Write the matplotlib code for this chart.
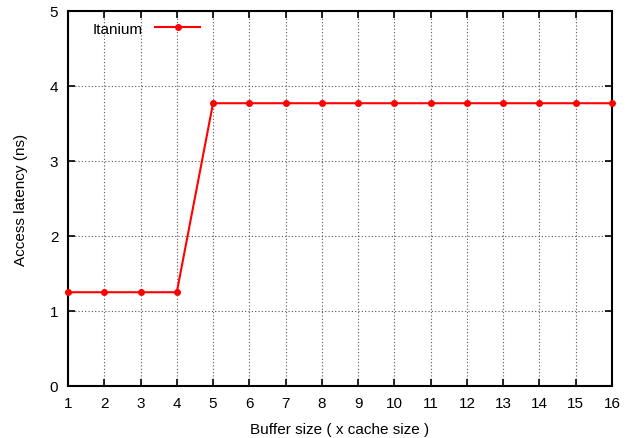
import matplotlib
matplotlib.use("Agg")
import matplotlib.pyplot as plt

plt.rcParams["font.family"] = ["Liberation Sans", "DejaVu Sans"]

buffer_size = [1, 2, 3, 4, 5, 6, 7, 8, 9, 10, 11, 12, 13, 14, 15, 16]
latency_ns = [1.25, 1.25, 1.25, 1.25, 3.77, 3.77, 3.77, 3.77,
              3.77, 3.77, 3.77, 3.77, 3.77, 3.77, 3.77, 3.77]

fig = plt.figure(figsize=(6.33, 4.39), dpi=100)
ax = fig.add_axes([0.1074, 0.1185, 0.8594, 0.8542])

ax.plot(buffer_size, latency_ns, "-o", color="#ff0000", lw=1.5, ms=4,
        label="Itanium", clip_on=False, zorder=3)

ax.set_xlim(1, 16)
ax.set_ylim(0, 5)
ax.set_xticks(buffer_size)
ax.set_yticks(range(6))
ax.tick_params(direction="in", top=True, right=True, length=5, width=1.2,
               labelsize=11, pad=7)
ax.grid(True, ls=(0, (1, 2)), color="#555555", lw=0.8)
for s in ax.spines.values():
    s.set_linewidth(1.5)

ax.set_xlabel("Buffer size ( x cache size )", fontsize=11, labelpad=9)
ax.set_ylabel("Access latency (ns)", fontsize=11, labelpad=16)

ax.legend(loc="upper left", frameon=False, markerfirst=False, fontsize=11,
          handlelength=3.0, borderaxespad=0.3, bbox_to_anchor=(0.025, 1.0))

fig.savefig("out.png", dpi=100)
